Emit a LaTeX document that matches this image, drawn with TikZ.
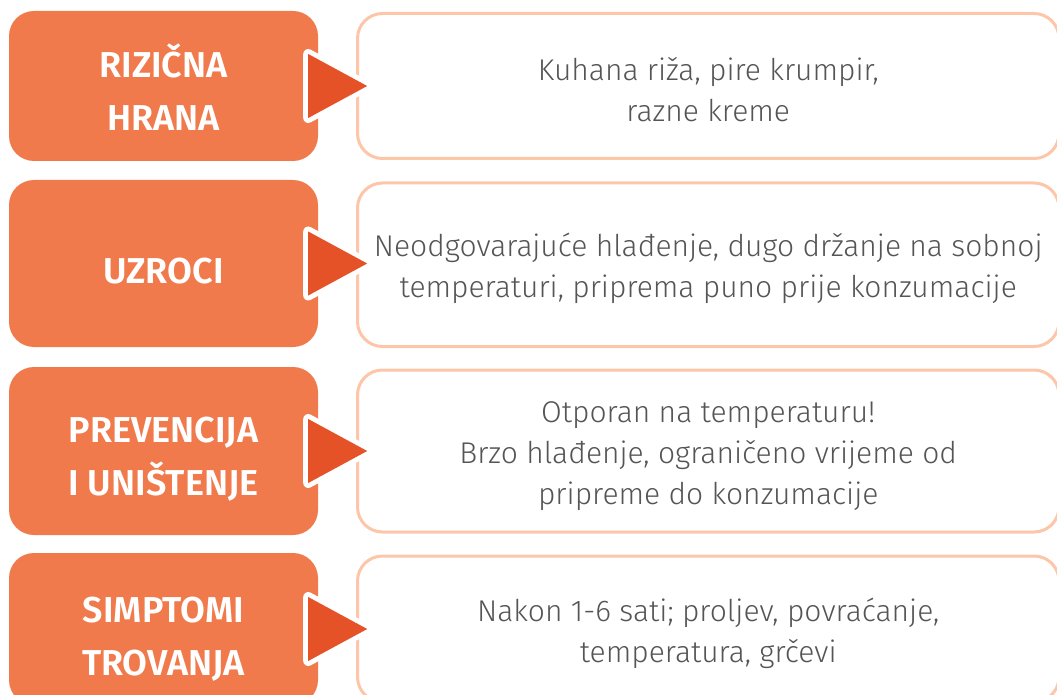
\documentclass[tikz,border=0pt]{standalone}
\usepackage{fontspec}
\setmainfont{Fira Sans}[UprightFont=* Light, BoldFont=* SemiBold]
\usetikzlibrary{calc}
\definecolor{boxorange}{HTML}{F07A4B}
\definecolor{arroworange}{HTML}{E65227}
\definecolor{peach}{HTML}{FDC6A9}
\definecolor{bodygray}{HTML}{555555}
\tikzset{
  leftbox/.style={rectangle, rounded corners=25pt, fill=boxorange, minimum width=309pt, inner sep=0pt},
  rightbox/.style={rectangle, rounded corners=25pt, draw=peach, line width=3pt, fill=white, minimum width=701.5pt, inner sep=0pt},
  labeltext/.style={text=white, font=\fontsize{36}{53}\selectfont\bfseries, align=center, inner sep=0pt, anchor=base},
  bodytext/.style={text=bodygray, font=\fontsize{30}{41}\selectfont, align=center, inner sep=0pt, anchor=base},
  triout/.style={fill=white, draw=white, line width=10pt, line join=round},
  trifill/.style={fill=arroworange}
}
\newcommand{\rowtri}[1]{%
  \filldraw[triout] ($(#1.east)+(-10,-32)$) -- ($(#1.east)+(49,0)$) -- ($(#1.east)+(-10,32)$) -- cycle;
  \fill[trifill] ($(#1.east)+(-10,-32)$) -- ($(#1.east)+(49,0)$) -- ($(#1.east)+(-10,32)$) -- cycle;
}
\begin{document}
\begin{tikzpicture}[x=1pt,y=-1pt]
\useasboundingbox (0,0) rectangle (1057,695);
\clip (0,0) rectangle (1057,695);
% left boxes
\node[leftbox, minimum height=150pt] (L1) at (163.5,86) {};
\node[leftbox, minimum height=167pt] (L2) at (163.5,263.5) {};
\node[leftbox, minimum height=168pt] (L3) at (163.5,451) {};
\node[leftbox, minimum height=152pt] (L4) at (163.5,629) {};
% right boxes
\node[rightbox, minimum height=145pt] (R1) at (708.25,86) {};
\node[rightbox, minimum height=163.5pt] (R2) at (708.25,264.75) {};
\node[rightbox, minimum height=162pt] (R3) at (708.25,451) {};
\node[rightbox, minimum height=146pt] (R4) at (708.25,629) {};
% labels (anchored at the baseline of their last line)
\node[labeltext] (T1) at ($(L1.center)+(0,45)$) {RIZIČNA\\HRANA};
\node[labeltext] (T2) at ($(L2.center)+(0,19.5)$) {UZROCI};
\node[labeltext] (T3) at ($(L3.center)+(0,44)$) {PREVENCIJA\\I UNIŠTENJE};
\node[labeltext] (T4) at ($(L4.center)+(0,46)$) {SIMPTOMI\\TROVANJA};
% body texts (anchored at the baseline of their last line)
\node[bodytext] (B1) at ($(R1.center)+(0,36)$) {Kuhana riža, pire krumpir,\\razne kreme};
\node[bodytext] (B2) at ($(R2.center)+(0,33)$) {Neodgovarajuće hlađenje, dugo držanje na sobnoj\\temperaturi, priprema puno prije konzumacije};
\node[bodytext] (B3) at ($(R3.center)+(0,53)$) {Otporan na temperaturu!\\Brzo hlađenje, ograničeno vrijeme od\\pripreme do konzumacije};
\node[bodytext] (B4) at ($(R4.center)+(0,33)$) {Nakon 1-6 sati; proljev, povraćanje,\\temperatura, grčevi};
% arrows
\rowtri{L1}
\rowtri{L2}
\rowtri{L3}
\rowtri{L4}
\end{tikzpicture}
\end{document}
